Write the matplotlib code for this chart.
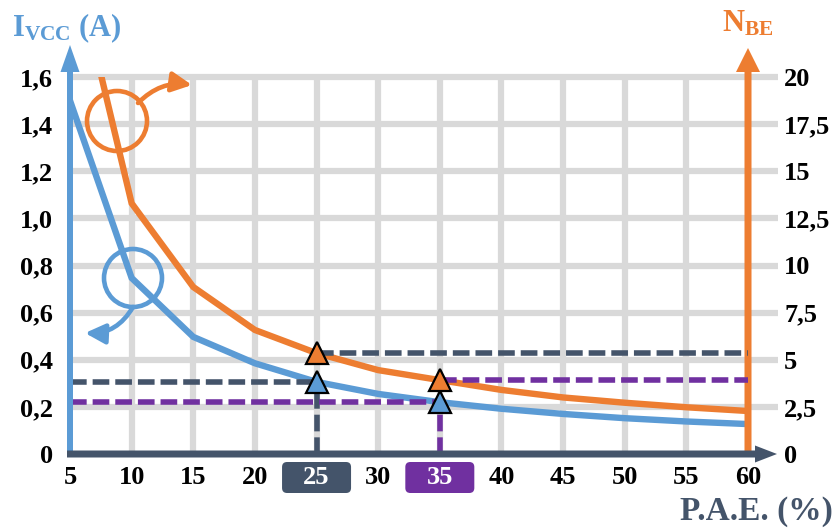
import matplotlib
matplotlib.use("Agg")
import matplotlib.pyplot as plt
from matplotlib.patches import Ellipse, FancyBboxPatch, FancyArrowPatch
from matplotlib.transforms import IdentityTransform

plt.rcParams['font.family'] = ['Liberation Serif', 'DejaVu Serif']
plt.rcParams['font.weight'] = 'bold'
plt.rcParams['mathtext.fontset'] = 'custom'
plt.rcParams['mathtext.bf'] = 'Liberation Serif:bold'
plt.rcParams['mathtext.rm'] = 'Liberation Serif:bold'
plt.rcParams['lines.scale_dashes'] = False

# ---- data ----
pae = [5, 10, 15, 20, 25, 30, 35, 40, 45, 50, 55, 60]
ivcc = [1.50, 0.747, 0.497, 0.385, 0.306, 0.255, 0.220, 0.192, 0.170, 0.152, 0.138, 0.127]
nbe = [27.0, 13.3, 8.86, 6.58, 5.35, 4.45, 3.92, 3.40, 3.00, 2.72, 2.48, 2.28]
x_ticks = [5, 10, 15, 20, 25, 30, 35, 40, 45, 50, 55, 60]
x_labels = ['5', '10', '15', '20', '25', '30', '35', '40', '45', '50', '55', '60']
left_ticks = [0, 0.2, 0.4, 0.6, 0.8, 1.0, 1.2, 1.4, 1.6]
left_labels = ['0', '0,2', '0,4', '0,6', '0,8', '1,0', '1,2', '1,4', '1,6']
right_ticks = [0, 2.5, 5, 7.5, 10, 12.5, 15, 17.5, 20]
right_labels = ['0', '2,5', '5', '7,5', '10', '12,5', '15', '17,5', '20']
marked_pae = [25, 35]

BLUE = '#5B9BD5'
ORANGE = '#ED7D31'
SLATE = '#44546A'
PURPLE = '#7030A0'
GRID = '#D9D9D9'
W, H = 839, 529

fig = plt.figure(figsize=(W / 100, H / 100), dpi=100)
ax = fig.add_axes([70 / W, (H - 454) / H, (748 - 70) / W, (454 - 77) / H])
ax.set_xlim(5, 60)
ax.set_ylim(0, 1.6)
ax2 = ax.twinx()
ax2.set_ylim(0, 20)
for a in (ax, ax2):
    for s in a.spines.values():
        s.set_visible(False)

# px -> data helpers (scale)
pxx = (60 - 5) / (748 - 70)
pxy = 1.6 / (454 - 77)

# grid
ax.hlines(left_ticks[1:], 5, 60 + 30 * pxx, color=GRID, lw=4.5, zorder=0.5, clip_on=False)
ax.vlines(x_ticks[1:-1], 0, 1.6, color=GRID, lw=4.5, zorder=0.5, clip_on=False)

# curves
ax.plot(pae, ivcc, color=BLUE, lw=4.6, zorder=2, solid_joinstyle='miter')
ax2.plot(pae, nbe, color=ORANGE, lw=4.6, zorder=2, solid_joinstyle='miter')

# dashed guide lines
dash = (0, (12, 4.3))
i25 = pae.index(25)
i35 = pae.index(35)
ax.plot([5, 25], [ivcc[i25]] * 2, color=SLATE, lw=4, ls=dash, zorder=3, dash_capstyle='butt')
ax.plot([25, 25], [0, ivcc[i25]], color=SLATE, lw=4, ls=dash, zorder=3, dash_capstyle='butt')
ax2.plot([25, 60], [nbe[i25]] * 2, color=SLATE, lw=4, ls=dash, zorder=3, dash_capstyle='butt')
ax.plot([5, 35], [ivcc[i35]] * 2, color=PURPLE, lw=4, ls=dash, zorder=3, dash_capstyle='butt')
ax.plot([35, 35], [0, ivcc[i35]], color=PURPLE, lw=4, ls=dash, zorder=3, dash_capstyle='butt')
ax2.plot([35, 60], [nbe[i35]] * 2, color=PURPLE, lw=4, ls=dash, zorder=3, dash_capstyle='butt')

# axis arrows
ax.arrow(5, 0, 0, (454 - 45) * pxy, width=6 * pxx, head_width=19 * pxx, head_length=27 * pxy,
         length_includes_head=True, color=BLUE, clip_on=False, zorder=4, lw=0)
ax.arrow(60, 0, 0, (454 - 48) * pxy, width=7 * pxx, head_width=24 * pxx, head_length=24 * pxy,
         length_includes_head=True, color=ORANGE, clip_on=False, zorder=4, lw=0)
ax.arrow(5 - 3 * pxx, 0, 55 + (777 - 748 + 3) * pxx, 0, width=7 * pxy, head_width=17 * pxy,
         head_length=22 * pxx, length_includes_head=True, color=SLATE, clip_on=False, zorder=4.5, lw=0)

# triangles
mk = dict(marker='^', ms=16, mec='black', mew=1.6, ls='none', zorder=6, clip_on=False)
ax2.plot(marked_pae, [nbe[i25], nbe[i35]], mfc=ORANGE, **mk)
ax2.plot(marked_pae, [ivcc[i25], ivcc[i35]], mfc=BLUE, transform=ax.transData, **mk)

# annotation circles & arrows
ax.add_patch(Ellipse((5 + 47 * pxx, (454 - 121) * pxy), 60 * pxx, 60 * pxy, fill=False,
                     ec=ORANGE, lw=3.3, zorder=5, clip_on=False))
ax.add_patch(Ellipse((5 + 63 * pxx, (454 - 278) * pxy), 58 * pxx, 58 * pxy, fill=False,
                     ec=BLUE, lw=3.3, zorder=5, clip_on=False))
ax.add_patch(FancyArrowPatch((5 + 68 * pxx, (454 - 103) * pxy), (5 + 122 * pxx, (454 - 85) * pxy),
                             connectionstyle='arc3,rad=-0.25',
                             arrowstyle='-|>,head_length=0.6,head_width=0.3', mutation_scale=20,
                             color=ORANGE, lw=3.3, zorder=5, shrinkA=0, shrinkB=0, clip_on=False))
ax.add_patch(FancyArrowPatch((5 + 63 * pxx, (454 - 307) * pxy), (5 + 15 * pxx, (454 - 333) * pxy),
                             connectionstyle='arc3,rad=-0.3',
                             arrowstyle='-|>,head_length=0.6,head_width=0.3', mutation_scale=20,
                             color=BLUE, lw=3.3, zorder=5, shrinkA=0, shrinkB=0, clip_on=False))

# ticks
tfont = dict(fontsize=19, fontweight='bold', family='Liberation Serif')
ax.set_xticks(x_ticks)
ax.set_xticklabels(x_labels, **tfont)
ax.set_yticks(left_ticks)
ax.set_yticklabels(left_labels, **tfont)
ax2.set_yticks(right_ticks)
ax2.set_yticklabels(right_labels, **tfont)
ax.tick_params(axis='x', length=0, pad=9)
ax.tick_params(axis='y', length=0, pad=12)
ax2.tick_params(axis='y', length=0, pad=26)

# highlighted tick boxes
box_colors = {25: SLATE, 35: PURPLE}
for lbl, xv in zip(ax.get_xticklabels(), x_ticks):
    if xv in box_colors:
        lbl.set_color('white')
        xc = ax.transData.transform((xv, 0))[0]
        ax.add_patch(FancyBboxPatch((xc - 34.5, H - 493), 69, 31,
                                    boxstyle='round,pad=0,rounding_size=5',
                                    fc=box_colors[xv], ec='none', transform=IdentityTransform(),
                                    clip_on=False, zorder=1))

# axis titles
fig.text(12 / W, 1 - 36 / H, r'$\mathbf{I_{VCC}}$ (A)', color=BLUE, fontsize=22,
         fontweight='bold', ha='left', va='baseline')
fig.text(722 / W, 1 - 31 / H, r'$\mathbf{N_{BE}}$', color=ORANGE, fontsize=22,
         fontweight='bold', ha='left', va='baseline')
fig.text(680 / W, 1 - 520 / H, 'P.A.E. (%)', color=SLATE, fontsize=24,
         fontweight='bold', ha='left', va='baseline')

fig.savefig('out.png', dpi=100)
